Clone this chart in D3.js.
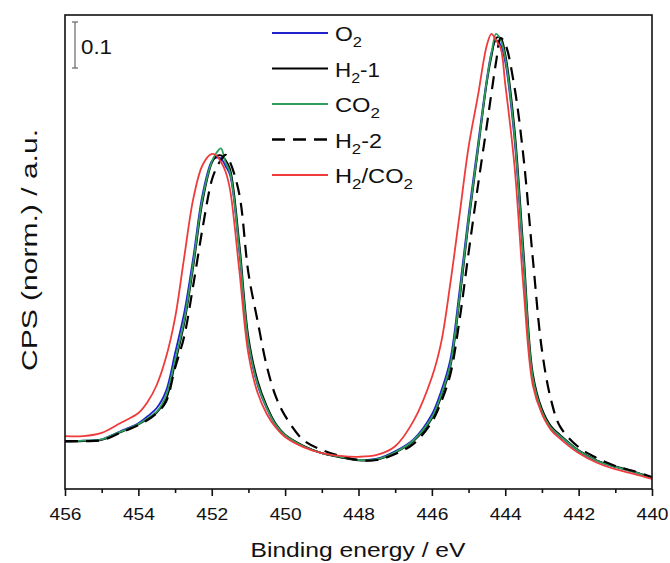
<!DOCTYPE html>
<html>
<head>
<meta charset="utf-8">
<script src="https://cdn.jsdelivr.net/npm/d3@7"></script>
<style>
  html, body { margin: 0; padding: 0; background: #fff; }
  svg { display: block; }
  text { font-family: "Liberation Sans", Arial, Helvetica, sans-serif; fill: #111; }
</style>
</head>
<body>
<svg id="chart" width="670" height="563"></svg>
<script>
// ---------------- data ----------------
const energy = [456, 455.5, 455, 454.5, 454, 453.75, 453.5, 453.25, 453, 452.75, 452.5, 452.25,
  452, 451.875, 451.75, 451.625, 451.5, 451.25, 451, 450.75, 450.5, 450.25, 450, 449.5, 449, 448.5,
  448, 447.5, 447, 446.5, 446, 445.75, 445.5, 445.25, 445, 444.75, 444.5, 444.375, 444.25, 444.125,
  444, 443.75, 443.5, 443.25, 443, 442.75, 442.5, 442, 441.5, 441, 440.5, 440];

const O2 = [0.114, 0.115, 0.118, 0.135, 0.153, 0.168, 0.186, 0.222, 0.305, 0.393, 0.515, 0.650,
  0.722, 0.730, 0.728, 0.712, 0.692, 0.528, 0.326, 0.236, 0.185, 0.148, 0.126, 0.103, 0.088, 0.080,
  0.073, 0.076, 0.092, 0.118, 0.172, 0.222, 0.290, 0.438, 0.605, 0.755, 0.902, 0.958, 0.985, 0.975,
  0.938, 0.772, 0.500, 0.250, 0.177, 0.142, 0.124, 0.092, 0.071, 0.058, 0.047, 0.034];

const H2_1 = [0.113, 0.114, 0.117, 0.133, 0.150, 0.162, 0.176, 0.204, 0.283, 0.370, 0.495, 0.635,
  0.718, 0.733, 0.735, 0.725, 0.705, 0.545, 0.340, 0.245, 0.190, 0.151, 0.128, 0.104, 0.088, 0.079,
  0.072, 0.074, 0.089, 0.114, 0.163, 0.210, 0.274, 0.418, 0.588, 0.742, 0.894, 0.950, 0.990, 0.990,
  0.955, 0.795, 0.525, 0.262, 0.184, 0.146, 0.127, 0.094, 0.072, 0.059, 0.048, 0.035];

const CO2 = [0.114, 0.115, 0.118, 0.134, 0.151, 0.164, 0.178, 0.212, 0.290, 0.377, 0.503, 0.642,
  0.721, 0.740, 0.750, 0.720, 0.697, 0.532, 0.329, 0.238, 0.186, 0.149, 0.127, 0.103, 0.088, 0.080,
  0.073, 0.075, 0.090, 0.116, 0.166, 0.214, 0.279, 0.425, 0.595, 0.747, 0.899, 0.957, 0.999, 0.986,
  0.947, 0.781, 0.508, 0.253, 0.179, 0.143, 0.125, 0.093, 0.071, 0.058, 0.047, 0.034];

const H2_2 = [0.114, 0.114, 0.116, 0.132, 0.149, 0.160, 0.175, 0.199, 0.273, 0.342, 0.455, 0.577,
  0.681, 0.707, 0.725, 0.736, 0.720, 0.651, 0.479, 0.375, 0.277, 0.210, 0.169, 0.116, 0.095, 0.082,
  0.073, 0.073, 0.086, 0.108, 0.156, 0.199, 0.258, 0.375, 0.523, 0.666, 0.801, 0.871, 0.938, 0.990,
  0.977, 0.884, 0.729, 0.512, 0.312, 0.203, 0.145, 0.101, 0.077, 0.060, 0.049, 0.036];

const H2_CO2 = [0.125, 0.125, 0.132, 0.153, 0.175, 0.199, 0.236, 0.295, 0.382, 0.514, 0.642, 0.714,
  0.738, 0.735, 0.721, 0.700, 0.660, 0.486, 0.303, 0.219, 0.173, 0.143, 0.123, 0.101, 0.088, 0.082,
  0.080, 0.084, 0.103, 0.158, 0.253, 0.327, 0.455, 0.603, 0.753, 0.862, 0.975, 0.999, 0.985, 0.968,
  0.890, 0.714, 0.445, 0.236, 0.173, 0.138, 0.119, 0.088, 0.067, 0.053, 0.043, 0.032];

const seriesNames = ["O2", "H2-1", "CO2", "H2-2", "H2/CO2"];
const seriesValues = [O2, H2_1, CO2, H2_2, H2_CO2];
const majorTicks = [456, 454, 452, 450, 448, 446, 444, 442, 440];
const minorTicks = [455, 453, 451, 449, 447, 445, 443, 441];
const scaleBarValue = 0.1;
const xTitle = "Binding energy / eV";
const yTitle = "CPS (norm.) / a.u.";

// ---------------- styles ----------------
const colors = ["#2222cc", "#000000", "#2e9e5e", "#000000", "#ef3b3b"];
const dashes = [null, null, null, "13,8", null];
// legend label parts: [text, isSubscript]
const legendParts = [
  [["O", false], ["2", true]],
  [["H", false], ["2", true], ["-1", false]],
  [["CO", false], ["2", true]],
  [["H", false], ["2", true], ["-2", false]],
  [["H", false], ["2", true], ["/CO", false], ["2", true]]
];
const legendWidths = [27, 45, 45, 47, 78];

// ---------------- layout ----------------
const L = 65, R = 652, T = 15, B = 489;
const svg = d3.select("#chart");

const x = d3.scaleLinear().domain([456, 440]).range([L, R]);
const y = d3.scaleLinear().domain([0.01, 1.04]).range([B, T]);

// curves
const line = d3.line()
  .x(d => x(d[0]))
  .y(d => y(d[1]))
  .curve(d3.curveCatmullRom.alpha(0.5));

svg.append("clipPath").attr("id", "plotclip")
  .append("rect").attr("x", L).attr("y", T).attr("width", R - L).attr("height", B - T);

const gCurves = svg.append("g").attr("clip-path", "url(#plotclip)");
seriesValues.forEach((vals, i) => {
  gCurves.append("path")
    .datum(energy.map((e, k) => [e, vals[k]]))
    .attr("d", line)
    .attr("fill", "none")
    .attr("stroke", colors[i])
    .attr("stroke-width", i === 3 ? 2.2 : 1.8)
    .attr("stroke-dasharray", dashes[i])
    .attr("stroke-linejoin", "round");
});

// frame
svg.append("rect")
  .attr("x", L).attr("y", T).attr("width", R - L).attr("height", B - T)
  .attr("fill", "none").attr("stroke", "#111").attr("stroke-width", 1.6);

// bottom axis: major ticks with labels
const axMajor = svg.append("g").attr("transform", `translate(0,${B})`)
  .call(d3.axisBottom(x).tickValues(majorTicks).tickSize(7).tickPadding(4).tickFormat(d3.format("d")));
axMajor.select(".domain").remove();
axMajor.selectAll(".tick line").attr("stroke", "#111").attr("stroke-width", 1.6);
axMajor.selectAll(".tick text")
  .attr("dy", null).attr("y", 31)
  .attr("textLength", 32).attr("lengthAdjust", "spacingAndGlyphs")
  .style("font-size", "17px").style("font-family", "'Liberation Sans', Arial, sans-serif")
  .attr("fill", "#111");

// minor ticks
const axMinor = svg.append("g").attr("transform", `translate(0,${B})`)
  .call(d3.axisBottom(x).tickValues(minorTicks).tickSize(4).tickFormat(""));
axMinor.select(".domain").remove();
axMinor.selectAll(".tick line").attr("stroke", "#111").attr("stroke-width", 1.6);

// axis titles
svg.append("text")
  .attr("x", 358).attr("y", 557)
  .attr("text-anchor", "middle")
  .attr("textLength", 215).attr("lengthAdjust", "spacingAndGlyphs")
  .style("font-size", "21px")
  .text(xTitle);

svg.append("text")
  .attr("transform", "translate(37,250) rotate(-90)")
  .attr("text-anchor", "middle")
  .attr("textLength", 242).attr("lengthAdjust", "spacingAndGlyphs")
  .style("font-size", "22px")
  .text(yTitle);

// scale bar (0.1 normalized units)
const sbX = 75, sbTop = 22;
const sbLen = y(0) - y(scaleBarValue);
const sb = svg.append("g").attr("stroke", "#666").attr("stroke-width", 1.2);
sb.append("line").attr("x1", sbX).attr("x2", sbX).attr("y1", sbTop).attr("y2", sbTop + sbLen);
sb.append("line").attr("x1", sbX - 3).attr("x2", sbX + 3).attr("y1", sbTop).attr("y2", sbTop);
sb.append("line").attr("x1", sbX - 3).attr("x2", sbX + 3).attr("y1", sbTop + sbLen).attr("y2", sbTop + sbLen);
svg.append("text")
  .attr("x", 81).attr("y", 54)
  .attr("textLength", 31).attr("lengthAdjust", "spacingAndGlyphs")
  .style("font-size", "20.5px")
  .text(String(scaleBarValue));

// legend
const legY = [33, 68.5, 104, 139.5, 175];
const lg = svg.append("g");
seriesNames.forEach((name, i) => {
  lg.append("line")
    .attr("x1", 272).attr("x2", 328).attr("y1", legY[i]).attr("y2", legY[i])
    .attr("stroke", colors[i]).attr("stroke-width", i === 3 ? 2.4 : 2)
    .attr("stroke-dasharray", dashes[i]);
  const t = lg.append("text")
    .attr("x", 335).attr("y", legY[i] + 8)
    .attr("textLength", legendWidths[i]).attr("lengthAdjust", "spacingAndGlyphs")
    .style("font-size", "19.5px");
  let shifted = false;
  legendParts[i].forEach(([s, sub]) => {
    const ts = t.append("tspan").text(s);
    if (sub && !shifted) { ts.attr("dy", 6).style("font-size", "14px"); shifted = true; }
    else if (sub && shifted) { ts.style("font-size", "14px"); }
    else if (!sub && shifted) { ts.attr("dy", -6); shifted = false; }
  });
});
</script>
</body>
</html>
